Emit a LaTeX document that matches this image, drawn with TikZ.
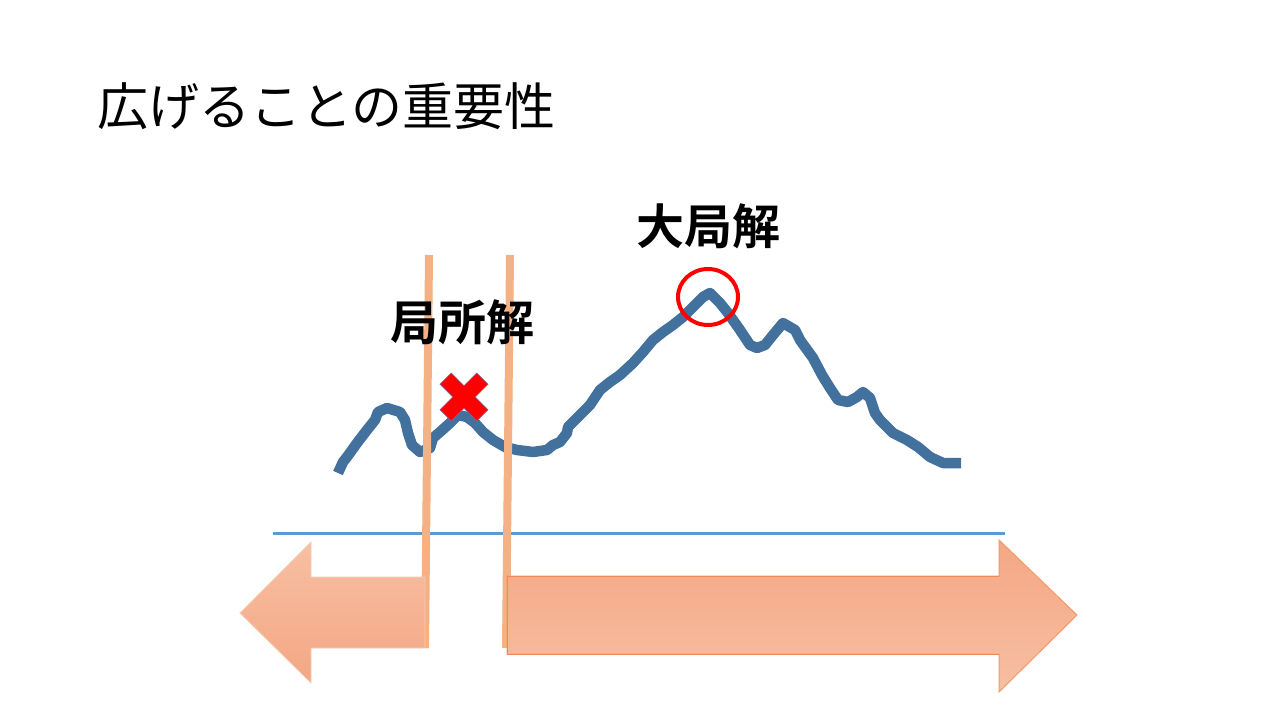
\documentclass[tikz,border=0pt]{standalone}
\usepackage{fontspec}
\usetikzlibrary{shapes.geometric}
\newfontfamily\jpfont{Noto Sans CJK JP}
\newfontfamily\jpbold{Noto Sans CJK JP Bold}
\definecolor{curveblue}{HTML}{41719C}
\definecolor{axisblue}{HTML}{5B9BD5}
\definecolor{barorange}{HTML}{F4B183}
\definecolor{arrlight}{HTML}{F7BFA2}
\definecolor{arrdark}{HTML}{F4A784}
\definecolor{arredge}{HTML}{F08A50}
\definecolor{xedge}{HTML}{7F6F9F}
\tikzset{
  curvestyle/.style={draw=curveblue, line width=10.5pt, line join=round, line cap=butt},
  barstyle/.style={draw=barorange, line width=8pt},
  axisstyle/.style={draw=axisblue, line width=3pt},
  titletext/.style={font=\jpfont\fontsize{51}{60}\selectfont, anchor=west, inner sep=0pt},
  labeltext/.style={font=\jpbold\fontsize{48}{56}\selectfont, inner sep=0pt},
}
\begin{document}
\begin{tikzpicture}[x=1pt,y=-1pt]
\useasboundingbox[fill=white] (0,0) rectangle (1280,720);

% axis
\coordinate (axL) at (273,533);
\coordinate (axR) at (1005,533);
\draw[axisstyle] (axL) -- (axR);

% landscape curve
\draw[curvestyle] (338,473) -- (343,462) -- (347,457) -- (357,443) -- (367,430) -- (375,420)
 -- (378,412) -- (387,408) -- (400,412) -- (405,420) -- (408,433) -- (412,445) -- (420,452)
 -- (430,448) -- (433,438) -- (440,432) -- (450,423) -- (458,415) -- (467,417) -- (475,423)
 -- (483,432) -- (493,440) -- (505,447) -- (517,450) -- (533,452) -- (547,450) -- (553,445)
 -- (560,442) -- (567,433) -- (568,427) -- (580,415) -- (590,405) -- (600,390) -- (610,382)
 -- (620,375) -- (633,363) -- (643,352) -- (653,340) -- (663,332) -- (673,325) -- (683,317)
 -- (693,307) -- (703,297) -- (710,293) -- (720,303) -- (728,313) -- (740,330) -- (750,345)
 -- (757,348) -- (765,345) -- (773,335) -- (783,323) -- (795,330) -- (800,340) -- (813,358)
 -- (822,375) -- (830,388) -- (838,400) -- (848,402) -- (857,397) -- (863,392) -- (870,398)
 -- (875,413) -- (880,420) -- (893,433) -- (907,440) -- (918,447) -- (930,457) -- (943,463)
 -- (961,463);

% vertical bars
\coordinate (b1t) at (429,255);
\coordinate (b1b) at (425,648);
\coordinate (b2t) at (510,255);
\coordinate (b2b) at (506,648);
\draw[barstyle] (b1t) -- (b1b);
\draw[barstyle] (b2t) -- (b2b);

% left arrow
\draw[draw=arrlight!80!white, line width=0.8pt, top color=arrlight, bottom color=arrdark]
  (240,613) -- (311,542) -- (311,577) -- (425,577) -- (425,648) -- (311,648) -- (311,683) -- cycle;

% right arrow
\draw[draw=arredge!70!arrlight, line width=1pt, top color=arrdark, bottom color=arrlight]
  (507,576) -- (999,576) -- (999,540) -- (1077,615) -- (999,692) -- (999,654) -- (507,654) -- cycle;
\draw[draw=arredge, line width=1pt] (999,576) -- (507,576) -- (507,654) -- (999,654);

% local optimum cross
\begin{scope}[shift={(464,397)}, rotate=45]
\draw[fill=red, draw=xedge, line width=0.6pt]
  (8,26) -- (8,8) -- (26,8) -- (26,-8) -- (8,-8) -- (8,-26) -- (-8,-26) -- (-8,-8)
  -- (-26,-8) -- (-26,8) -- (-8,8) -- (-8,26) -- cycle;
\end{scope}

% global optimum circle
\node[draw=red, line width=4pt, ellipse, minimum width=60pt, minimum height=56pt, inner sep=0pt] (peak) at (708,297) {};

% texts
\node[titletext] (title) at (97,106) {広げることの重要性};
\node[labeltext] (local) at (462,322) {局所解};
\node[labeltext] (global) at (708,226) {大局解};
\end{tikzpicture}
\end{document}
